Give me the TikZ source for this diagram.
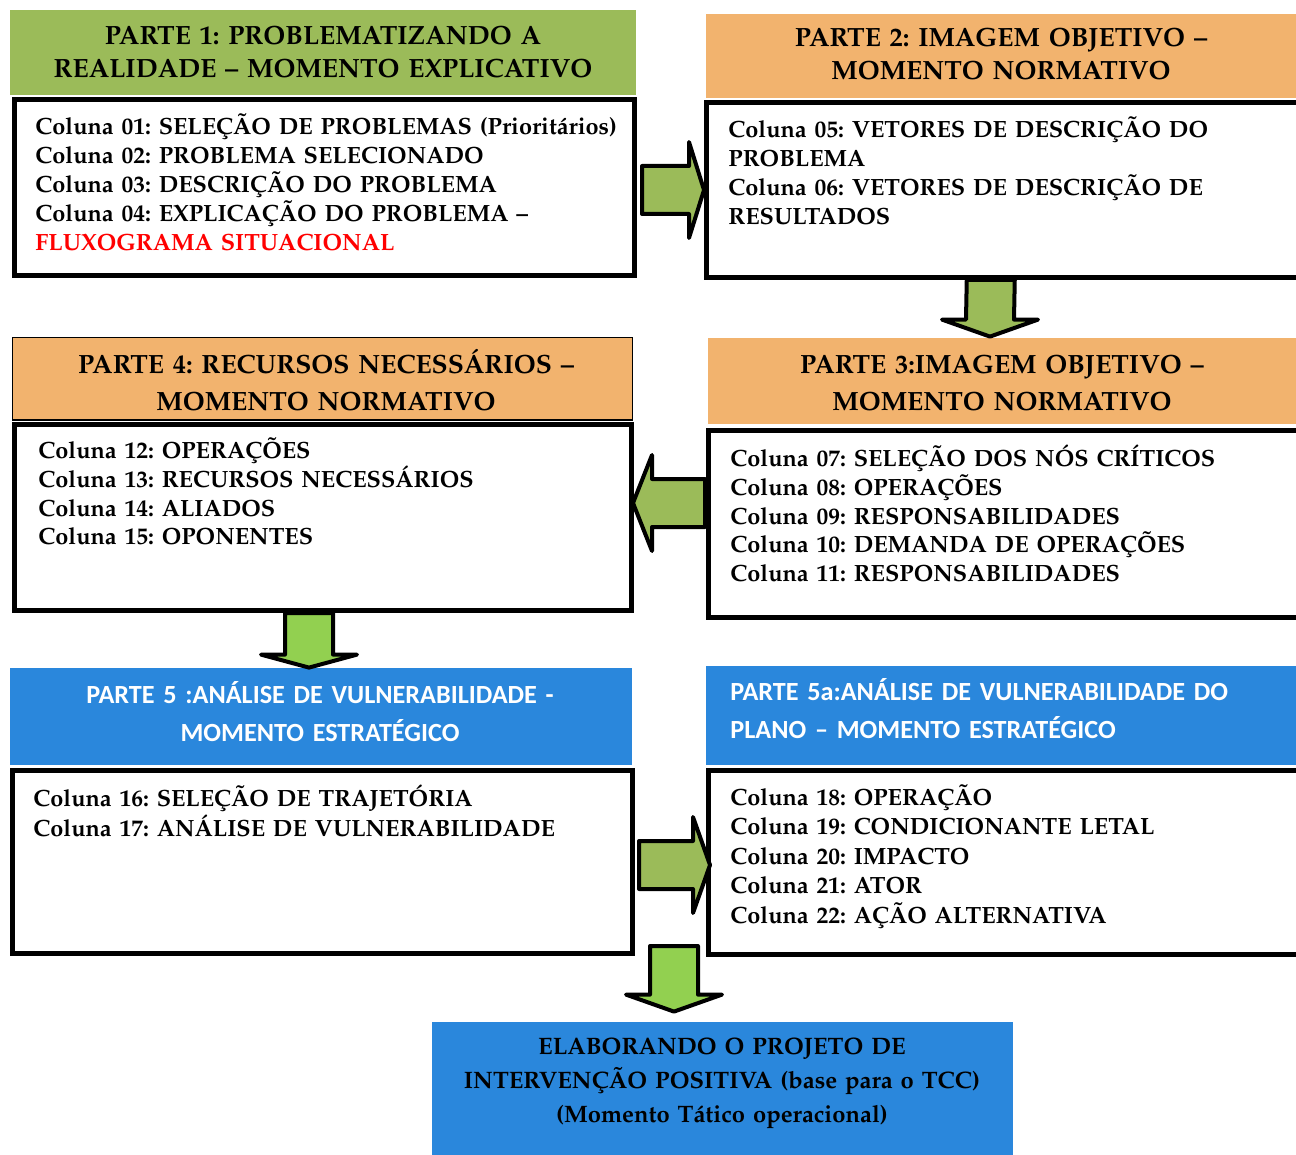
\documentclass[tikz,border=0pt]{standalone}
\usepackage[T1]{fontenc}
\usepackage{fontspec}
\newfontfamily\calib{Carlito}
\newfontfamily\libser{Liberation Serif}
\usetikzlibrary{calc,fit}
\usepackage{xcolor}
\definecolor{hgreen}{RGB}{155,187,89}
\definecolor{agreen}{RGB}{146,208,80}
\definecolor{horange}{RGB}{242,179,110}
\definecolor{hblue}{RGB}{42,135,220}
\def\boxLine{2.5pt}
\def\arrLine{2pt}
\def\shaftW{24}
\def\headW{48}
\IfFileExists{t1ppl.fd}{\newcommand{\palb}{\fontencoding{T1}\fontfamily{ppl}\fontseries{b}\selectfont}}{\newcommand{\palb}{\libser\bfseries}}
\frenchspacing
\tikzset{hdr/.style={inner sep=0,draw=none}}
\tikzset{box/.style={draw=black,line width=\boxLine,inner sep=0,fill=white}}
\tikzset{blk/.style={draw=black,line width=\arrLine,line join=round}}
\tikzset{htxt/.style={anchor=base,align=center,text width=320pt,inner sep=0,font=\palb\fontsize{13.2}{16.5}\selectfont}}
\tikzset{btxt/.style={anchor=base west,align=left,text width=330pt,inner sep=0,font=\palb\fontsize{11.75}{14.5}\selectfont}}
\tikzset{ctxt/.style={inner sep=0,text=white,text width=310pt,font=\calib\bfseries\fontsize{13.1}{18.75}\selectfont}}
\newcommand{\harrow}[4]{\draw[blk,fill=#4] ($#1+(0,-\shaftW)$)--($#2+(#3,-\shaftW)$)--($#2+(#3,-\headW)$)--#2--($#2+(#3,\headW)$)--($#2+(#3,\shaftW)$)--($#1+(0,\shaftW)$)--cycle;}
\newcommand{\varrow}[4]{\draw[blk,fill=#4] ($#1+(-\shaftW,0)$)--($#2+(-\shaftW,-#3)$)--($#2+(-\headW,-#3)$)--#2--($#2+(\headW,-#3)$)--($#2+(\shaftW,-#3)$)--($#1+(\shaftW,0)$)--cycle;}

\begin{document}
\frenchspacing
\begin{tikzpicture}[x=0.5pt,y=-0.5pt]
\useasboundingbox (0,0) rectangle (1296,1155);
\clip (0,0) rectangle (1296,1155);
% headers
\node[hdr,fill=hgreen,fit={(10,10) (636,95)}] (h1) {};
\node[hdr,fill=horange,fit={(706,14) (1296,98)}] (h2) {};
\node[hdr,fill=horange,fit={(708,338) (1296,424)}] (h3) {};
\node[hdr,fill=horange,draw=black,line width=0.75pt,fit={(12.5,337.5) (632.5,420)}] (h4) {};
\node[hdr,fill=hblue,fit={(10,668) (632,765)}] (h5) {};
\node[hdr,fill=hblue,fit={(706,666) (1296,765)}] (h5a) {};
\node[hdr,fill=hblue,fit={(432,1022) (1013,1160)}] (fin) {};
% boxes
\node[box,fit={(14.5,99.5) (634.5,275.5)}] (b1) {};
\node[box,fit={(706.5,102.5) (1300,277.5)}] (b2) {};
\node[box,fit={(708.5,430.5) (1300,617.5)}] (b3) {};
\node[box,fit={(14.5,424.5) (631.5,610.5)}] (b4) {};
\node[box,fit={(12.5,770.5) (632.5,953.5)}] (b5) {};
\node[box,fit={(708.5,770.5) (1300,954.5)}] (b5a) {};
% header texts
\node[htxt] (h1t) at (323,45) {PARTE 1: PROBLEMATIZANDO A\\REALIDADE -- MOMENTO EXPLICATIVO};
\node[htxt] (h2t) at (1001,47) {PARTE 2: IMAGEM OBJETIVO --\\MOMENTO NORMATIVO};
\node[htxt,font=\palb\fontsize{13.2}{18.5}\selectfont] (h3t) at (1002,373) {PARTE 3:IMAGEM OBJETIVO --\\MOMENTO NORMATIVO};
\node[htxt,font=\palb\fontsize{13.2}{18.5}\selectfont] (h4t) at (326,373) {PARTE 4: RECURSOS NECESSÁRIOS --\\MOMENTO NORMATIVO};
\node[ctxt,anchor=base,align=center] (h5t) at (320,703.5) {PARTE 5 :ANÁLISE DE VULNERABILIDADE -\\MOMENTO ESTRATÉGICO};
\node[ctxt,anchor=base west,align=left] (h5at) at (730,700.5) {PARTE 5a:ANÁLISE DE VULNERABILIDADE DO\\PLANO – MOMENTO ESTRATÉGICO};
\node[htxt,font=\palb\fontsize{11.9}{17}\selectfont] (fint) at (722,1054.5) {ELABORANDO O PROJETO DE\\INTERVENÇÃO POSITIVA (base para o TCC)\\(Momento Tático operacional)};
% box texts
\node[btxt] (b1t) at (35,135) {Coluna 01: SELEÇÃO DE PROBLEMAS (Prioritários)\\Coluna 02: PROBLEMA SELECIONADO\\Coluna 03: DESCRIÇÃO DO PROBLEMA\\Coluna 04: EXPLICAÇÃO DO PROBLEMA --\\\textcolor{red}{FLUXOGRAMA SITUACIONAL}};
\node[btxt] (b2t) at (728,138) {Coluna 05: VETORES DE DESCRIÇÃO DO\\PROBLEMA\\Coluna 06: VETORES DE DESCRIÇÃO DE\\RESULTADOS};
\node[btxt] (b3t) at (730,466) {Coluna 07: SELEÇÃO DOS NÓS CRÍTICOS\\Coluna 08: OPERAÇÕES\\Coluna 09: RESPONSABILIDADES\\Coluna 10: DEMANDA DE OPERAÇÕES\\Coluna 11: RESPONSABILIDADES};
\node[btxt] (b4t) at (38,458) {Coluna 12: OPERAÇÕES\\Coluna 13: RECURSOS NECESSÁRIOS\\Coluna 14: ALIADOS\\Coluna 15: OPONENTES};
\node[btxt,font=\palb\fontsize{11.75}{15}\selectfont] (b5t) at (33,806) {Coluna 16: SELEÇÃO DE TRAJETÓRIA\\Coluna 17: ANÁLISE DE VULNERABILIDADE};
\node[btxt,font=\palb\fontsize{11.75}{14.75}\selectfont] (b5at) at (730,805) {Coluna 18: OPERAÇÃO\\Coluna 19: CONDICIONANTE LETAL\\Coluna 20: IMPACTO\\Coluna 21: ATOR\\Coluna 22: AÇÃO ALTERNATIVA};
% arrow ends
\coordinate (a1s) at ($(b1.east)+(5,2.5)$);
\coordinate (a1t) at (b2.west);
\coordinate (a2s) at ($(b2.south)+(-12.5,0)$);
\coordinate (a2t) at ($(h3.north)+(-12,-1)$);
\coordinate (a3s) at ($(b3.west)+(-1,-21)$);
\coordinate (a3t) at ($(b4.east)+(-1,-14.5)$);
\coordinate (a4s) at ($(b4.south)+(-14,0)$);
\coordinate (a4t) at ($(h5.north)+(-12,0)$);
\coordinate (a5s) at ($(b5.east)+(4,3)$);
\coordinate (a5t) at ($(b5a.west)+(4,2.5)$);
\coordinate (a6s) at ($(b5.south east)!0.5!(b5a.south west)+(3.5,-10.5)$);
\coordinate (a6t) at ($(fin.north)+(-48.5,-10)$);
\harrow{(a1s)}{(a1t)}{-15}{hgreen}
\varrow{(a2s)}{(a2t)}{17}{hgreen}
\harrow{(a3s)}{(a3t)}{19}{hgreen}
\varrow{(a4s)}{(a4t)}{13}{agreen}
\harrow{(a5s)}{(a5t)}{-17}{hgreen}
\varrow{(a6s)}{(a6t)}{17}{agreen}
\end{tikzpicture}
\end{document}
